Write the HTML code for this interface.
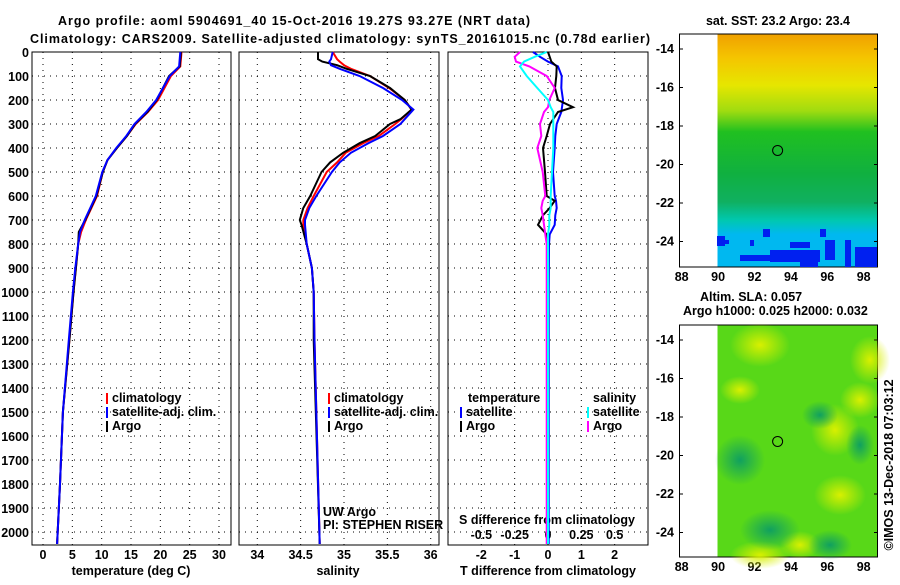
<!DOCTYPE html>
<html><head><meta charset="utf-8">
<style>
body{margin:0;background:#fff;width:900px;height:580px;overflow:hidden;font-family:"Liberation Sans",sans-serif}
svg text{font-family:"Liberation Sans",sans-serif;font-weight:bold;font-size:12.5px;fill:#000}
</style></head><body>
<svg id="c" width="900" height="580" xmlns="http://www.w3.org/2000/svg">
<defs>
<linearGradient id="sst" x1="0" y1="0" x2="0" y2="1">
<stop offset="0" stop-color="#f0a000"/><stop offset="0.1" stop-color="#f5c400"/>
<stop offset="0.22" stop-color="#e6e600"/><stop offset="0.33" stop-color="#a0dc10"/>
<stop offset="0.42" stop-color="#20c020"/><stop offset="0.6" stop-color="#10b040"/>
<stop offset="0.72" stop-color="#10b060"/><stop offset="0.8" stop-color="#00c8b0"/>
<stop offset="0.86" stop-color="#00b8f0"/><stop offset="1" stop-color="#00b8f0"/>
</linearGradient>
<radialGradient id="yb"><stop offset="0" stop-color="#d8f000"/><stop offset="1" stop-color="#d8f000" stop-opacity="0"/></radialGradient>
<radialGradient id="tb"><stop offset="0" stop-color="#10a060"/><stop offset="1" stop-color="#10a060" stop-opacity="0"/></radialGradient>
</defs>
<g id="g"></g>
</svg>
<script>
// ---- data ----
const tDepth=[0,60,100,200,250,300,350,400,450,500,600,700,750,800,900,1000,1200,1500,1800,2050];
const tClim=[23.6,23.4,21.8,19.6,17.9,15.8,14.3,12.6,11.0,10.2,9.2,7.3,6.5,6.0,5.6,5.2,4.5,3.4,2.9,2.4];
const tSat=[23.4,23.2,21.6,19.3,17.6,15.6,14.2,12.5,11.0,10.1,9.0,7.1,6.3,6.0,5.5,5.1,4.4,3.4,2.9,2.4];
const tArgo=[23.5,23.3,21.5,19.4,17.8,15.7,14.3,12.6,11.0,10.2,9.1,7.2,6.1,6.0,5.6,5.2,4.5,3.4,2.9,2.4];
const sDepth=[0,30,40,55,70,100,150,200,240,280,300,350,380,420,460,500,600,650,700,720,800,900,1000,1200,2050];
const sArgo=[34.70,34.70,34.75,34.92,35.03,35.30,35.53,35.70,35.78,35.65,35.53,35.36,35.18,34.99,34.84,34.74,34.61,34.53,34.49,34.51,34.57,34.63,34.65,34.65,34.72];
const sClim=[34.87,34.92,34.95,35.0,35.08,35.30,35.52,35.70,35.78,35.66,35.59,35.40,35.22,35.02,34.92,34.80,34.65,34.58,34.53,34.53,34.57,34.63,34.65,34.66,34.72];
const sSat=[34.87,34.85,34.83,34.85,34.95,35.18,35.45,35.67,35.80,35.70,35.65,35.45,35.28,35.08,34.95,34.86,34.68,34.60,34.55,34.55,34.57,34.63,34.65,34.66,34.72];
const dDepth=[0,20,40,60,100,150,200,230,250,300,350,400,500,600,620,650,680,720,760,800,1000,1500,2050];
const dTArgo=[0,0.05,0.1,0.26,0.25,0.21,0.3,0.75,0.3,0.06,-0.04,-0.15,-0.09,-0.04,0.2,0.05,-0.15,-0.3,-0.04,0,0,0,0];
const dTSat=[-0.45,-0.24,0,0.3,0.41,0.4,0.45,0.42,0.4,0.26,0.22,0.2,0.15,0.2,0.24,0.26,0.22,0.2,0.05,0.03,0.02,0.02,0.02];
const dSArgo=[-0.21,-0.25,-0.24,-0.14,-0.01,0.05,0.01,0.0,-0.03,-0.06,-0.05,-0.08,-0.04,-0.02,-0.04,-0.05,-0.04,-0.03,-0.02,-0.01,-0.01,-0.01,-0.01];
const dSSat=[-0.01,-0.1,-0.18,-0.21,-0.16,-0.08,0.0,0.02,0.04,0.04,0.04,0.04,0.03,0.02,0.02,0.02,0.01,0.01,0.0,0.0,0.0,0.0,0.0];
const depthTicks=[0,100,200,300,400,500,600,700,800,900,1000,1100,1200,1300,1400,1500,1600,1700,1800,1900,2000];
const tTicks=[0,5,10,15,20,25,30];
const sTicks=[34,34.5,35,35.5,36];
const dtTicks=[-2,-1,0,1,2];
const dsTicks=["-0.5","-0.25","0","0.25","0.5"];
const lonTicks=[88,90,92,94,96,98];
const latTicks=[-14,-16,-18,-20,-22,-24];

// ---- axes ----
const Y=d=>52+d*0.24;
const XT=v=>43+v*5.867;
const XS=v=>257.3+(v-34)*86.7;
const XD=v=>548+v*33.33;
const XDS=v=>548+v*133.3;
const LX=v=>681.7+(v-88)*18.2;
const LY1=v=>49+(-14-v)*19.25;
const LY2=v=>340+(-14-v)*19.25;

const NS="http://www.w3.org/2000/svg";
const g=document.getElementById('g');
function el(t,a,p){const e=document.createElementNS(NS,t);for(const k in a)e.setAttribute(k,a[k]);(p||g).appendChild(e);return e;}
function txt(s,x,y,anchor,extra){const e=el('text',Object.assign({x:x,y:y,'text-anchor':anchor||'middle'},extra||{}));e.textContent=s;return e;}

const T=52,B=545;
const panels=[[32,231],[239,439],[448,648]];
panels.forEach((p,i)=>{
  const r=el('rect',{x:p[0],y:T,width:p[1]-p[0],height:B-T,fill:'none',stroke:'#000','stroke-width':1});
  
  
  depthTicks.forEach(d=>{el('line',{x1:p[0],x2:p[1],y1:Y(d),y2:Y(d),stroke:'#000','stroke-dasharray':'1,5'});});
});
depthTicks.forEach(d=>{const t=txt(String(d),29,Y(d)+5,'end');

});
tTicks.forEach(v=>{el('line',{x1:XT(v),x2:XT(v),y1:T,y2:B,stroke:'#000','stroke-dasharray':'1,5'});txt(String(v),XT(v),559);});
sTicks.forEach(v=>{el('line',{x1:XS(v),x2:XS(v),y1:T,y2:B,stroke:'#000','stroke-dasharray':'1,5'});txt(String(v),XS(v),559);});
dtTicks.forEach(v=>{el('line',{x1:XD(v),x2:XD(v),y1:T,y2:B,stroke:'#000','stroke-dasharray':'1,5'});txt(String(v),XD(v),559);});
dsTicks.forEach(v=>{txt(v,XDS(parseFloat(v)),539);});
txt('temperature (deg C)',131,575);
txt('salinity',338,575);
txt('T difference from climatology',548,575,'middle',{textLength:176});
txt('S difference from climatology',547,524,'middle',{textLength:176});

function line(xs,ds,fx,color,w,name){
  const pts=xs.map((v,i)=>fx(v).toFixed(1)+','+Y(ds[i]).toFixed(1)).join(' ');
  const e=el('polyline',{points:pts,fill:'none',stroke:color,'stroke-width':w});
  
  
}
line(tClim,tDepth,XT,'#f00',2,'temp-climatology-line');
line(tArgo,tDepth,XT,'#000',2,'temp-argo-line');
line(tSat,tDepth,XT,'#00f',2,'temp-satellite-line');
line(sClim,sDepth,XS,'#f00',2,'sal-climatology-line');
line(sArgo,sDepth,XS,'#000',2,'sal-argo-line');
line(sSat,sDepth,XS,'#00f',2,'sal-satellite-line');
line(dTSat,dDepth,XD,'#00f',2,'tdiff-satellite-line');
line(dTArgo,dDepth,XD,'#000',2,'tdiff-argo-line');
line(dSArgo,dDepth,XDS,'#f0f',2,'sdiff-argo-line');
line(dSSat,dDepth,XDS,'#0ff',2,'sdiff-satellite-line');

function legend(x,y,items){items.forEach((it,i)=>{el('rect',{x:x,y:y+i*14-9,width:2,height:11,fill:it[1]});txt(it[0],x+6,y+i*14,'start');});}
legend(106,402,[['climatology','#f00'],['satellite-adj. clim.','#00f'],['Argo','#000']]);
legend(328,402,[['climatology','#f00'],['satellite-adj. clim.','#00f'],['Argo','#000']]);
txt('temperature',468,402,'start');
legend(460,416,[['satellite','#00f'],['Argo','#000']]);
txt('salinity',593,402,'start');
legend(587,416,[['satellite','#0ff'],['Argo','#f0f']]);
txt('UW Argo',323,516,'start',{'font-weight':'normal'});
txt('PI: STEPHEN RISER',323,529,'start',{'font-weight':'normal'});

txt('Argo profile: aoml 5904691_40 15-Oct-2016 19.27S 93.27E (NRT data)',294,25,'middle',{'font-size':'14px',textLength:472});
txt('Climatology: CARS2009. Satellite-adjusted climatology: synTS_20161015.nc (0.78d earlier)',340,43,'middle',{'font-size':'14px',textLength:620});

// maps
function map(top,bot,LY,fill,name){
  el('rect',{x:717.5,y:top,width:160,height:bot-top,fill:fill});
  const f=el('rect',{x:679.5,y:top,width:198,height:bot-top,fill:'none',stroke:'#000'});
  
  
  latTicks.forEach(v=>{txt(String(v),674,LY(v)+4,'end');el('line',{x1:679.5,x2:683,y1:LY(v),y2:LY(v),stroke:'#000'});el('line',{x1:874,x2:877.5,y1:LY(v),y2:LY(v),stroke:'#000'});});
  lonTicks.forEach(v=>{txt(String(v),LX(v),bot+14);});
}
map(34,267,LY1,'url(#sst)','sst-map');
[[717,236,8,10],[725,240,4,4],[750,240,4,6],[790,242,20,6],[800,250,18,17],[770,250,50,12],[825,240,10,20],[845,240,6,27],[855,247,22,20],[740,255,30,6],[763,229,7,8],[820,229,6,8]].forEach(r=>{el('rect',{x:r[0],y:r[1],width:r[2],height:r[3],fill:'#0020f0'});});
el('circle',{cx:LX(93.27),cy:LY1(-19.27),r:5,fill:'none',stroke:'#000'});
map(325,557,LY2,'#58d818','sla-map');
[[760,555,30,14],[835,430,24,26],[840,495,26,20],[870,360,20,24],[760,345,30,22],[800,545,20,14],[860,400,20,18],[740,390,20,14]].forEach(b=>{el('ellipse',{cx:b[0],cy:b[1],rx:b[2],ry:b[3],fill:'url(#yb)'});});
[[740,460,25,25],[770,530,30,20],[830,545,22,15],[820,415,18,14],[860,445,14,20]].forEach(b=>{el('ellipse',{cx:b[0],cy:b[1],rx:b[2],ry:b[3],fill:'url(#tb)'});});
el('circle',{cx:LX(93.27),cy:LY2(-19.27),r:5,fill:'none',stroke:'#000'});
txt('sat. SST: 23.2 Argo: 23.4',778,25);
txt('Altim. SLA: 0.057',700,301,'start',{'font-size':'11.5px'});
txt('Argo h1000: 0.025 h2000: 0.032',683,315,'start',{'font-size':'11.5px'});
txt('©IMOS 13-Dec-2018 07:03:12',0,0,'middle',{transform:'translate(893,465) rotate(-90)','font-weight':'normal','font-size':'11.5px'});
</script>
</body></html>
